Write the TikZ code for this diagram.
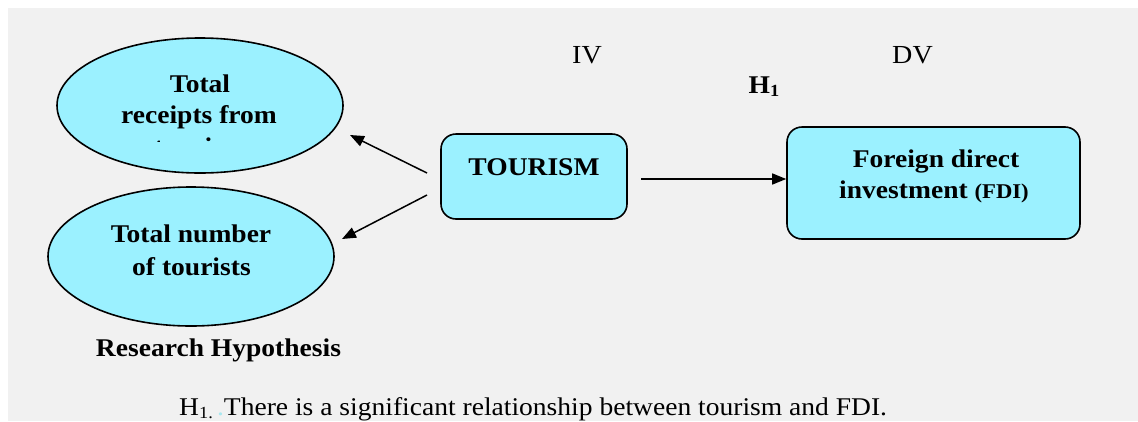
\documentclass[tikz,border=0pt]{standalone}
\usepackage{fontspec}
\setmainfont[FakeStretch=1.08]{Liberation Serif}
\usetikzlibrary{shapes.geometric,arrows.meta}
\definecolor{bg}{HTML}{F1F1F1}
\definecolor{boxfill}{HTML}{9BF1FF}
\definecolor{dotcyan}{HTML}{A8E8F0}
\newcommand\mysub[1]{\raisebox{-0.3ex}{\fontsize{17}{17}\selectfont #1}}
\begin{document}
\begin{tikzpicture}[x=1pt,y=-1pt,
  ell/.style={ellipse, draw, line width=1.6pt, fill=boxfill, inner sep=0pt},
  rbox/.style={rectangle, rounded corners=15pt, draw, line width=1.6pt, fill=boxfill, inner sep=0pt},
  lbl/.style={font=\fontsize{25.5}{32}\selectfont\bfseries, inner sep=0pt, anchor=base},
  plain/.style={font=\fontsize{26}{32}\selectfont, inner sep=0pt, anchor=base},
  arr/.style={line width=1.5pt, -{Triangle[length=14pt,width=11pt]}}]
\useasboundingbox (0,0) rectangle (1138,421);
\fill[bg] (8,8) rectangle (1138,421);
% shapes
\node[ell, minimum width=286pt, minimum height=135pt] (e1) at (200,105.5) {};
\node[ell, minimum width=286pt, minimum height=139pt] (e2) at (191,256.5) {};
\node[rbox, minimum width=186pt, minimum height=85pt] (tour) at (534,176.5) {};
\node[rbox, minimum width=293pt, minimum height=112pt] (fdi) at (933.5,183) {};
% ellipse 1 text
\node[lbl] (t1a) at (200,92) {Total};
\node[lbl] (t1b) at (199,123) {receipts from};
\begin{scope}
  \clip (100,126) rectangle (300,141);
  \node[lbl] (t1c) at (200,155) {tourism};
\end{scope}
% ellipse 2 text
\node[lbl] (t2a) at (191,242) {Total number};
\node[lbl] (t2b) at (191.5,275) {of tourists};
% boxes text
\node[lbl] (tt) at (534,175) {TOURISM};
\node[lbl] (f1) at (936,167) {Foreign direct};
\node[lbl] (f2) at (934,198) {investment {\fontsize{21}{25}\selectfont(FDI)}};
% headers
\node[plain] (iv) at (587,63) {IV};
\node[plain] (dv) at (912.5,63) {DV};
\node[lbl] (h1) at (764,93) {H\mysub{1}};
\node[lbl] (rh) at (218.5,356) {Research Hypothesis};
\node[plain, font=\fontsize{25.5}{32}\selectfont, anchor=base west] (cap) at (179,415) {H\mysub{1.}\,{\color{dotcyan}.}There is a significant relationship between tourism and FDI.};
% connectors
\coordinate (a1s) at (427,173);
\coordinate (a1e) at (350,135);
\coordinate (a2s) at (427,195);
\coordinate (a2e) at (342,239);
\coordinate (hs) at (641,179);
\draw[arr] (a1s) -- (a1e);
\draw[arr] (a2s) -- (a2e);
\draw[arr] (hs) -- (hs -| fdi.west);
\end{tikzpicture}
\end{document}
